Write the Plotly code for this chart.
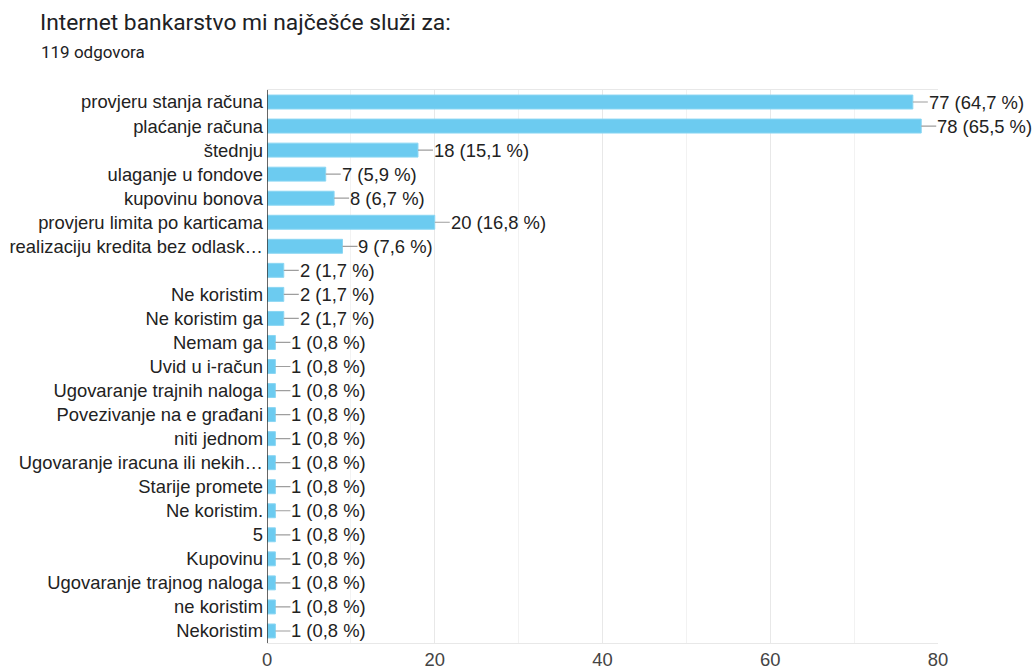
import plotly.graph_objects as go

categories = [
    "provjeru stanja računa", "plaćanje računa", "štednju", "ulaganje u fondove",
    "kupovinu bonova", "provjeru limita po karticama", "realizaciju kredita bez odlask…",
    "", "Ne koristim", "Ne koristim ga", "Nemam ga", "Uvid u i-račun",
    "Ugovaranje trajnih naloga", "Povezivanje na e građani", "niti jednom",
    "Ugovaranje iracuna ili nekih…", "Starije promete", "Ne koristim.", "5",
    "Kupovinu", "Ugovaranje trajnog naloga", "ne koristim", "Nekoristim",
]
counts = [77, 78, 18, 7, 8, 20, 9, 2, 2, 2, 1, 1, 1, 1, 1, 1, 1, 1, 1, 1, 1, 1, 1]
percents = ["64,7", "65,5", "15,1", "5,9", "6,7", "16,8", "7,6", "1,7", "1,7", "1,7",
            "0,8", "0,8", "0,8", "0,8", "0,8", "0,8", "0,8", "0,8", "0,8", "0,8",
            "0,8", "0,8", "0,8"]
x_ticks = [0, 20, 40, 60, 80]

pos = list(range(len(categories)))
FONT = "Liberation Sans, Arial"
FS = 18.4

fig = go.Figure(go.Bar(
    x=counts, y=pos, orientation="h",
    marker=dict(color="#6ccbf0", line=dict(color="#8ad6f3", width=1)),
    width=0.58, hoverinfo="skip",
))

for i, (c, p) in enumerate(zip(counts, percents)):
    fig.add_annotation(
        x=c, y=i, xref="x", yref="y",
        text=f"{c} ({p} %)", showarrow=True, arrowhead=0, arrowwidth=1.2,
        arrowcolor="#9e9e9e", ax=15, ay=0, xanchor="left", standoff=0,
        borderpad=0,
        font=dict(family=FONT, size=FS, color="#222222"),
    )

W, H = 1035, 670
L, R, T, B = 267, 97, 90, 27
fig.update_layout(
    width=W, height=H,
    margin=dict(l=L, r=R, t=T, b=B, autoexpand=False),
    paper_bgcolor="white", plot_bgcolor="white",
    showlegend=False,
    title=dict(
        text="Internet bankarstvo mi najčešće služi za:",
        x=40 / W, xanchor="left", y=1 - 22 / H, yanchor="middle",
        font=dict(family="Roboto", size=22.8, color="#202124"),
    ),
)
fig.add_annotation(
    text="119 odgovora", xref="paper", yref="paper",
    x=-(L - 40) / (W - L - R), y=1 + (T - 52) / (H - T - B),
    xanchor="left", yanchor="middle", showarrow=False, borderpad=0,
    font=dict(family="Roboto", size=17, color="#202124"),
)

fig.update_xaxes(
    range=[0, 80], tickvals=x_ticks, showgrid=True, gridcolor="#e8e8e8",
    zeroline=False, showline=True, linecolor="#e8e8e8",
    mirror=True, ticks="", ticklabelstandoff=0, automargin=False,
    tickfont=dict(family=FONT, size=FS, color="#444444"),
    minor=dict(tickvals=[10, 30, 50, 70], showgrid=True, gridcolor="#f2f2f2"),
)
fig.update_yaxes(
    tickvals=pos, ticktext=categories,
    range=[len(categories) - 0.5, -0.5], automargin=False,
    showgrid=False, zeroline=False, ticks="", ticklabelstandoff=3,
    tickfont=dict(family=FONT, size=FS, color="#222222"),
)
fig.add_vline(x=0, line=dict(color="#333333", width=1.5))

fig.write_html(
    "out.html",
    config={"displayModeBar": False},
    post_script="document.body.style.margin='0';document.body.style.overflow='hidden';",
)
